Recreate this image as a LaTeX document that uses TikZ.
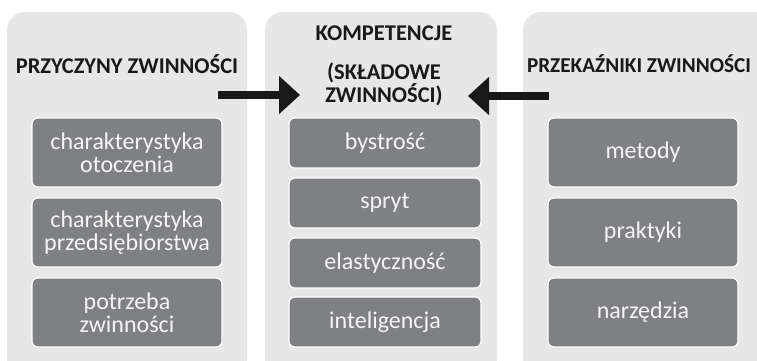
\documentclass[tikz,border=0pt]{standalone}
\usepackage{fontspec}
\setmainfont{Carlito}
\usetikzlibrary{arrows.meta}

\definecolor{panelgray}{HTML}{E7E7E8}
\definecolor{boxgray}{HTML}{7F8083}
\definecolor{boxtext}{HTML}{F5F5F5}

\tikzset{
  panel/.style={fill=panelgray, draw=none, rounded corners=18pt},
  item/.style={fill=boxgray, draw=white, line width=1.2pt, rounded corners=6pt,
    text=boxtext, align=center, inner sep=0pt,
    font=\fontsize{24}{23}\selectfont},
  heading/.style={align=center, inner sep=0pt, text=black!90,
    font=\fontsize{22.5}{20}\selectfont\bfseries},
  bigarrow/.style={line width=8pt, black!90, -{Triangle[length=21pt,width=37pt]}}
}

\begin{document}
\begin{tikzpicture}[x=1pt, y=-1pt]
    \useasboundingbox (0,0) rectangle (757,360);
    \clip (0,0) rectangle (757,360);
    % panels
    \draw[panel] (7,12) rectangle (247,378);
    \draw[panel] (265,12) rectangle (497,378);
    \draw[panel] (523,12) rectangle (775,378);
    % headings
    \node[heading] (lhead) at (127,64) {PRZYCZYNY ZWINNOŚCI};
    \node[heading] (chead1) at (384,33) {KOMPETENCJE};
    \node[heading] (chead2) at (384,84) {(SKŁADOWE\\ZWINNOŚCI)};
    \node[heading, font=\fontsize{21.2}{20}\selectfont\bfseries] (rhead) at (639,64) {PRZEKAŹNIKI ZWINNOŚCI};
    % left column
    \node[item, minimum width=190pt, minimum height=69pt, text width=186pt] (l1) at (127,152.5) {charakterystyka\\otoczenia};
    \node[item, minimum width=190pt, minimum height=69pt, text width=186pt] (l2) at (127,232.5) {charakterystyka\\przedsiębiorstwa};
    \node[item, minimum width=190pt, minimum height=69pt, text width=186pt] (l3) at (127,312.5) {potrzeba\\zwinności};
    % centre column
    \node[item, minimum width=192pt, minimum height=50pt, text width=188pt] (c1) at (385,143) {bystrość};
    \node[item, minimum width=192pt, minimum height=50pt, text width=188pt] (c2) at (385,203) {spryt};
    \node[item, minimum width=192pt, minimum height=50pt, text width=188pt] (c3) at (385,263) {elastyczność};
    \node[item, minimum width=192pt, minimum height=50pt, text width=188pt] (c4) at (385,322) {inteligencja};
    % right column
    \node[item, minimum width=190pt, minimum height=69pt, text width=186pt] (r1) at (643,152.5) {metody};
    \node[item, minimum width=190pt, minimum height=69pt, text width=186pt] (r2) at (643,232.5) {praktyki};
    \node[item, minimum width=190pt, minimum height=69pt, text width=186pt] (r3) at (643,312.5) {narzędzia};
    % arrows
    \coordinate (lstart) at (218,95);
    \coordinate (lend) at (300,95);
    \coordinate (rstart) at (549,96);
    \coordinate (rend) at (468,96);
    \draw[bigarrow] (lstart) -- (lend);
    \draw[bigarrow] (rstart) -- (rend);
\end{tikzpicture}
\end{document}
